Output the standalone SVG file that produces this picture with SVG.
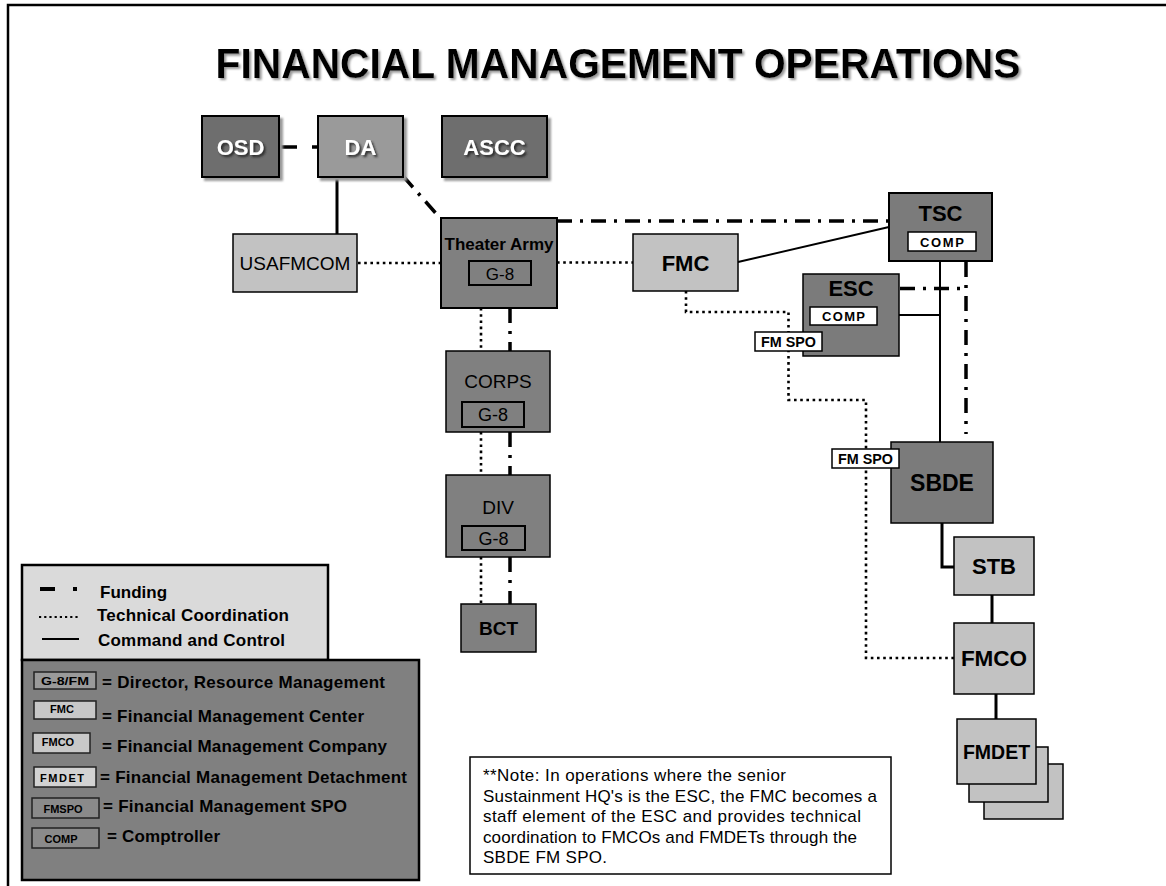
<svg xmlns="http://www.w3.org/2000/svg" width="1166" height="886" viewBox="0 0 1166 886">
<defs>
<filter id="boxsh" x="-10%" y="-10%" width="130%" height="130%"><feDropShadow dx="3" dy="3" stdDeviation="1.2" flood-color="#9a9a9a" flood-opacity="1"/></filter>
<filter id="txtsh" x="-10%" y="-20%" width="130%" height="150%"><feDropShadow dx="2" dy="2" stdDeviation="1" flood-color="#202020" flood-opacity="0.9"/></filter>
<filter id="titlesh" x="-5%" y="-20%" width="110%" height="150%"><feDropShadow dx="2" dy="2" stdDeviation="1" flood-color="#999" flood-opacity="1"/></filter>
</defs>
<style>
text{font-family:"Liberation Sans",Arial,sans-serif;fill:#000}
.b{font-weight:bold}
.node{stroke:#000;stroke-width:2}
.dark{fill:#6e6e6e}
.mid{fill:#7b7b7b}
.gray{fill:#808080}
.da{fill:#9a9a9a}
.light{fill:#c2c2c2}
.wbox{fill:#fff;stroke:#000;stroke-width:1.5}
.inbox{fill:none;stroke:#000;stroke-width:2}
.wt{fill:#fff;font-weight:bold;font-size:22px}
.fund{fill:none;stroke:#000;stroke-width:3.5;stroke-dasharray:15 8 3 8}
.dot{fill:none;stroke:#000;stroke-width:2.6;stroke-dasharray:2.6 3.6}
.solid{fill:none;stroke:#000;stroke-width:2}
.thick{fill:none;stroke:#000;stroke-width:3}
.leg{font-size:17px;font-weight:bold}
.lbox{stroke:#222;stroke-width:1.5}
.ls{font-size:11px;font-weight:bold}
</style>
<rect x="0" y="0" width="1166" height="886" fill="#fff"/>
<!-- frame -->
<path d="M8,886 V5 H1166" fill="none" stroke="#000" stroke-width="2.5"/>
<text x="618" y="78" text-anchor="middle" class="b" font-size="42" textLength="805" lengthAdjust="spacingAndGlyphs" filter="url(#titlesh)">FINANCIAL MANAGEMENT OPERATIONS</text>

<g id="connectors">
<path class="fund" d="M280,147 H318" style="stroke-dasharray:17 15 6 10"/>
<path class="fund" d="M403,176 L440,218"/>
<path class="thick" d="M337,177 V234"/>
<path class="dot" d="M358,263 H441"/>
<path class="dot" d="M557,262.5 H633"/>
<path class="fund" d="M557,221 H889"/>
<path class="solid" d="M738,262 L889,227"/>
<path class="solid" d="M940,261 V442"/>
<path class="fund" d="M966,262 V434"/>
<path class="fund" d="M900,288.5 H966"/>
<path class="solid" d="M899,315 H940"/>
<path class="dot" d="M481,308 V351 M481,432 V475 M481,557 V604"/>
<path class="fund" d="M510,308 V351 M510,432 V475 M510,557 V604"/>
<path class="dot" d="M686,291 V312 H788.5 V400 H866 V658 H954"/>
<path class="thick" d="M942,523 V567 H954"/>
<path class="thick" d="M992,595 V623"/>
<path class="thick" d="M996,694 V719"/>
</g>

<g id="osd"><rect x="202" y="116" width="77" height="61" class="node dark" filter="url(#boxsh)"/><text x="240.5" y="154.5" text-anchor="middle" class="wt" filter="url(#txtsh)">OSD</text></g>
<g id="da"><rect x="318" y="116" width="85" height="61" class="node da" filter="url(#boxsh)"/><text x="360.5" y="154.5" text-anchor="middle" class="wt" filter="url(#txtsh)">DA</text></g>
<g id="ascc"><rect x="442" y="116" width="105" height="61" class="node dark" filter="url(#boxsh)"/><text x="494.5" y="154.5" text-anchor="middle" class="wt" filter="url(#txtsh)">ASCC</text></g>
<g id="usafmcom"><rect x="233" y="234" width="124" height="58" class="node light" style="stroke-width:1.5"/><text x="295" y="270" text-anchor="middle" font-size="19">USAFMCOM</text></g>
<g id="theater-army"><rect x="441" y="218" width="116" height="90" class="node gray"/><text x="499" y="249.5" text-anchor="middle" class="b" font-size="17">Theater Army</text><rect x="469" y="261" width="62" height="24" class="inbox"/><text x="500" y="279.5" text-anchor="middle" font-size="17">G-8</text></g>
<g id="fmc"><rect x="633" y="234" width="105" height="57" class="node light" style="stroke-width:1.5"/><text x="685.5" y="270.5" text-anchor="middle" class="b" font-size="22">FMC</text></g>
<g id="tsc"><rect x="889" y="193" width="103" height="68" class="node mid"/><text x="940.5" y="221" text-anchor="middle" class="b" font-size="22">TSC</text><rect x="908" y="232" width="68" height="19" class="wbox"/><text x="942" y="246.5" text-anchor="middle" class="b" font-size="13" textLength="44" lengthAdjust="spacing">COMP</text></g>
<g id="esc"><rect x="803" y="274" width="96" height="82" class="node mid" style="stroke-width:1.5"/><text x="851" y="296" text-anchor="middle" class="b" font-size="22">ESC</text><rect x="810" y="307" width="67" height="18" class="wbox"/><text x="843.5" y="321" text-anchor="middle" class="b" font-size="13" textLength="43" lengthAdjust="spacing">COMP</text></g>
<g id="fmspo-esc"><rect x="755" y="332" width="67" height="19" class="wbox"/><text x="788.5" y="346.5" text-anchor="middle" class="b" font-size="14" textLength="55" lengthAdjust="spacingAndGlyphs">FM SPO</text></g>
<g id="corps"><rect x="446" y="351" width="104" height="81" class="node gray" style="stroke-width:1.5"/><text x="498" y="387.5" text-anchor="middle" font-size="19">CORPS</text><rect x="462" y="402" width="62" height="25" class="inbox"/><text x="493" y="421" text-anchor="middle" font-size="18">G-8</text></g>
<g id="div"><rect x="446" y="475" width="104" height="82" class="node gray" style="stroke-width:1.5"/><text x="498" y="513.5" text-anchor="middle" font-size="19">DIV</text><rect x="462" y="526" width="63" height="24" class="inbox"/><text x="493.5" y="544.5" text-anchor="middle" font-size="18">G-8</text></g>
<g id="bct"><rect x="461" y="604" width="75" height="48" class="node gray" style="stroke-width:1.5"/><text x="498.5" y="635" text-anchor="middle" class="b" font-size="19">BCT</text></g>
<g id="sbde"><rect x="891" y="442" width="102" height="81" class="node mid" style="stroke-width:1.5"/><text x="942" y="491" text-anchor="middle" class="b" font-size="23">SBDE</text></g>
<g id="fmspo-sbde"><rect x="832" y="449" width="67" height="19" class="wbox"/><text x="865.5" y="463.5" text-anchor="middle" class="b" font-size="14" textLength="55" lengthAdjust="spacingAndGlyphs">FM SPO</text></g>
<g id="stb"><rect x="954" y="537" width="80" height="58" class="node light" style="stroke-width:1.5"/><text x="994" y="574" text-anchor="middle" class="b" font-size="22">STB</text></g>
<g id="fmco"><rect x="954" y="623" width="80" height="71" class="node light" style="stroke-width:1.5"/><text x="994" y="666" text-anchor="middle" class="b" font-size="22.5">FMCO</text></g>
<g id="fmdet"><rect x="984" y="764" width="79" height="55" class="node light" style="stroke-width:1.5"/><rect x="969" y="747" width="79" height="55" class="node light" style="stroke-width:1.5"/><rect x="957" y="719" width="79" height="65" class="node light" style="stroke-width:1.5"/><text x="996.5" y="758.5" text-anchor="middle" class="b" font-size="19.5">FMDET</text></g>

<g id="note"><rect x="470" y="757" width="421" height="117" fill="#fff" stroke="#000" stroke-width="1.5"/>
<text font-size="17" x="483"><tspan x="483" y="781" textLength="303" lengthAdjust="spacing">**Note: In operations where the senior</tspan><tspan x="483" y="801.5" textLength="394" lengthAdjust="spacing">Sustainment HQ's is the ESC, the FMC becomes a</tspan><tspan x="483" y="822" textLength="378" lengthAdjust="spacing">staff element of the ESC and provides technical</tspan><tspan x="483" y="842.5" textLength="374" lengthAdjust="spacing">coordination to FMCOs and FMDETs through the</tspan><tspan x="483" y="863" textLength="124" lengthAdjust="spacing">SBDE FM SPO.</tspan></text></g>

<g id="legend-lines">
<rect x="22" y="565" width="306" height="95" fill="#dadada" stroke="#000" stroke-width="2.5"/>
<path d="M40,589 H55 M73,589 H77" stroke="#000" stroke-width="4" fill="none"/>
<path d="M39,617 H78" class="dot" style="stroke-width:2.2;stroke-dasharray:2.2 3"/>
<path d="M42,639 H79" stroke="#000" stroke-width="2" fill="none"/>
<text x="100" y="598" class="leg">Funding</text>
<text x="97" y="621" class="leg" textLength="192" lengthAdjust="spacing">Technical Coordination</text>
<text x="98" y="645.5" class="leg" textLength="187" lengthAdjust="spacing">Command and Control</text>
</g>
<g id="legend-boxes">
<rect x="22" y="660" width="397" height="220" fill="#808080" stroke="#000" stroke-width="2.5"/>
<rect x="34" y="672" width="62" height="17" fill="#9a9a9a" class="lbox"/><text x="65" y="684.5" text-anchor="middle" class="ls" textLength="48" lengthAdjust="spacingAndGlyphs">G-8/FM</text>
<text x="102" y="688" class="leg" textLength="283" lengthAdjust="spacing">= Director, Resource Management</text>
<rect x="34" y="701" width="62" height="18" fill="#c8c8c8" class="lbox"/><text x="62" y="713" text-anchor="middle" class="ls">FMC</text>
<text x="102" y="722" class="leg" textLength="262" lengthAdjust="spacing">= Financial Management Center</text>
<rect x="33" y="733" width="57" height="20" fill="#c8c8c8" class="lbox"/><text x="58" y="746" text-anchor="middle" class="ls">FMCO</text>
<text x="102" y="752" class="leg" textLength="285" lengthAdjust="spacing">= Financial Management Company</text>
<rect x="34" y="767" width="62" height="20" fill="#d2d2d2" class="lbox"/><text x="62" y="781.5" text-anchor="middle" class="ls" textLength="44" lengthAdjust="spacing">FMDET</text>
<text x="100" y="783" class="leg" textLength="307" lengthAdjust="spacing">= Financial Management Detachment</text>
<rect x="32" y="798" width="67" height="20" fill="#8a8a8a" class="lbox"/><text x="63" y="813" text-anchor="middle" class="ls">FMSPO</text>
<text x="103" y="812" class="leg" textLength="244" lengthAdjust="spacing">= Financial Management SPO</text>
<rect x="32" y="828" width="67" height="20" fill="#8a8a8a" class="lbox"/><text x="61" y="843" text-anchor="middle" class="ls">COMP</text>
<text x="107" y="841.5" class="leg" textLength="113" lengthAdjust="spacing">= Comptroller</text>
</g>
</svg>
